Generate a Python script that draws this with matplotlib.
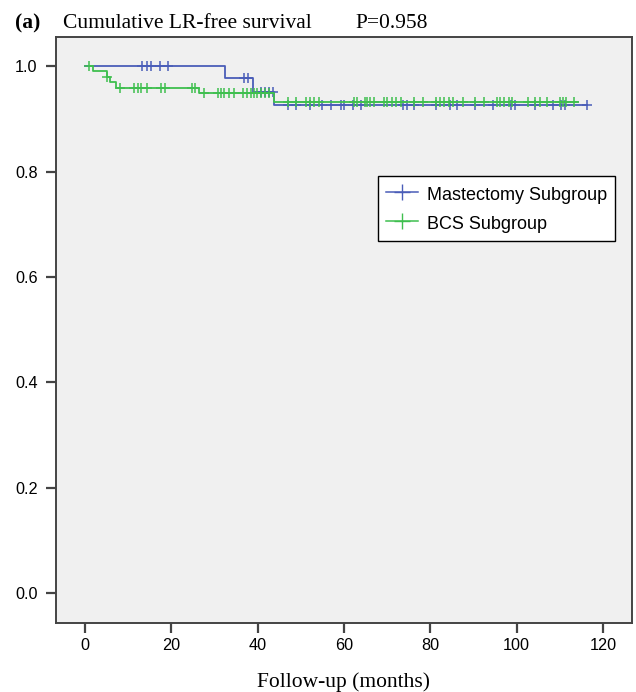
import numpy as np
import matplotlib.pyplot as plt

# Kaplan-Meier steps (months, survival)
mast_times = [0, 32.4, 38.8, 43.8]
mast_surv = [1.0, 0.977, 0.951, 0.926]
mast_end = 116.2
mast_censor = [13.3, 14.3, 15.3, 17.3, 19.3, 36.8, 37.7, 40.7, 41.6, 42.5, 43.6,
               46.9, 48.8, 52.1, 55.0, 57.0, 59.2, 60.1, 62.1, 64.0, 73.7, 74.6,
               76.3, 81.4, 84.5, 86.2, 90.4, 94.5, 98.7, 99.7, 104.3, 108.3,
               110.3, 111.2, 116.2]

bcs_times = [1.0, 1.9, 5.1, 5.8, 7.2, 26.4, 43.8]
bcs_surv = [1.0, 0.990, 0.980, 0.969, 0.959, 0.949, 0.932]
bcs_end = 114.3
bcs_censor = [1.0, 5.1, 8.2, 11.4, 12.2, 13.0, 14.3, 17.6, 18.5, 24.7, 25.5, 27.6,
              30.7, 31.4, 32.2, 33.4, 34.5, 36.7, 37.6, 38.4, 39.2, 39.9, 40.7,
              41.6, 42.6, 46.9, 48.8, 51.1, 52.1, 53.0, 54.2, 62.3, 63.1, 64.8,
              65.2, 66.0, 66.9, 69.2, 70.0, 71.1, 72.1, 73.1, 76.3, 78.3, 81.2,
              82.2, 83.1, 84.3, 85.2, 87.5, 90.4, 92.3, 95.4, 96.2, 97.1, 98.1,
              99.0, 102.6, 104.3, 105.3, 107.1, 110.1, 110.8, 111.4, 113.3]

labels = ['Mastectomy Subgroup', 'BCS Subgroup']
colors = ['#4a5db8', '#3fbf4f']


def surv_at(times, surv, t):
    idx = np.searchsorted(times, t, side='right') - 1
    return np.array(surv)[np.clip(idx, 0, None)]


fig = plt.figure(figsize=(6.36, 6.92), dpi=100)
L, R, T, B = 55.7, 632.0, 37.0, 623.0
ax = fig.add_axes([L / 636, 1 - B / 692, (R - L) / 636, (B - T) / 692])
ax.set_facecolor('#f0f0f0')

groups = [(mast_times, mast_surv, mast_end, mast_censor),
          (bcs_times, bcs_surv, bcs_end, bcs_censor)]
for (times, surv, end, cens), lab, c in zip(groups, labels, colors):
    x = list(times) + [end]
    y = list(surv) + [surv[-1]]
    ax.plot(x, y, drawstyle='steps-post', color=c, lw=1.3)
    ax.plot(cens, surv_at(times, surv, cens), ls='none', marker='+',
            ms=7.5, mew=1.1, color=c)
    ax.plot([], [], color=c, lw=1.1, marker='+', ms=12, mew=1.0, label=lab)

ax.set_xlim(-6.8, 126.7)
ax.set_ylim(-0.056, 1.055)
ax.set_xticks(range(0, 121, 20))
ax.set_yticks(np.arange(0, 1.01, 0.2))
ax.yaxis.set_major_formatter(plt.FormatStrFormatter('%.1f'))
for s in ax.spines.values():
    s.set_color('#444444')
    s.set_linewidth(1.4)
ax.tick_params(length=7, width=1.6, color='#444444', labelsize=11.7)
ax.tick_params(axis='x', pad=4)
ax.tick_params(axis='y', pad=6)
for lb in ax.get_xticklabels() + ax.get_yticklabels():
    lb.set_family('Liberation Sans')

leg = ax.legend(loc='upper left', bbox_to_anchor=(0.559, 0.763),
                borderaxespad=0, frameon=True, fancybox=False,
                prop={'family': 'Liberation Sans', 'size': 13},
                handlelength=1.75, handleheight=1.3, borderpad=0.45,
                labelspacing=0.52, handletextpad=0.5)
leg.get_frame().set_edgecolor('black')
leg.get_frame().set_linewidth(1.0)
leg.get_frame().set_facecolor('white')
leg.get_frame().set_alpha(1)

ty = 1 - 28 / 692
fig.text(15 / 636, ty, '(a)', family='Liberation Serif',
         weight='bold', fontsize=15.5, va='baseline')
fig.text(63 / 636, ty, 'Cumulative LR-free survival',
         family='Liberation Serif', fontsize=15.5, va='baseline')
fig.text(355 / 636, ty, 'P=0.958', family='Liberation Serif',
         fontsize=15.5, va='baseline')
ax.set_xlabel('Follow-up (months)', family='Liberation Serif', fontsize=15.5,
              va='baseline')
ax.xaxis.set_label_coords(0.5, (B - 687) / (B - T))

fig.savefig('out.png', dpi=100, facecolor='white')
